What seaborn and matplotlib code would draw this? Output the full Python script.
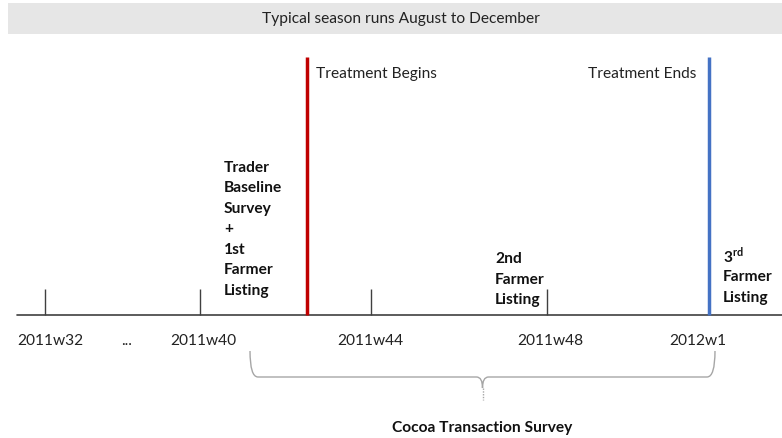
import matplotlib
matplotlib.use("Agg")
import matplotlib.pyplot as plt
import seaborn as sns
import pandas as pd
from matplotlib.path import Path
from matplotlib.patches import PathPatch, Rectangle

sns.set_theme(style="white")
plt.rcParams['font.family'] = ['Lato', 'DejaVu Sans']

# ---- diagram content ----
banner_text = "Typical season runs August to December"
week_labels = ["2011w32", "...", "2011w40", "2011w44", "2011w48", "2012w1"]
week_label_x = [50, 127, 203, 370, 550, 698]
tick_x = [45, 200, 371, 547]
event_names = ["Treatment Begins", "Treatment Ends"]
event_x = [307, 709]
event_colors = ["#C00000", "#4472C4"]
listing_texts = ["Trader\nBaseline\nSurvey\n+\n1st\nFarmer\nListing", "2nd\nFarmer\nListing"]
listing_x = [224, 495]
listing_top_y = [168, 259]
survey_name = "Cocoa Transaction Survey"
survey_span = [250, 715]

FS = 11.2
W, H = 782, 438
fig = plt.figure(figsize=(W / 100, H / 100), dpi=100)
ax = fig.add_axes([0, 0, 1, 1])

# banner
ax.add_patch(Rectangle((8, 3), W - 8, 31, color="#E6E6E6", lw=0))
ax.text(401, 19, banner_text, ha="center", va="center", fontsize=FS, color="#222222")

# baseline
base_y = 315
baseline = pd.DataFrame({"x": [17, W], "y": [base_y, base_y]})
sns.lineplot(data=baseline, x="x", y="y", ax=ax, color="#404040", lw=1.2, legend=False)
ax.set_xlim(0, W)
ax.set_ylim(H, 0)
ax.axis("off")

# ticks
ax.vlines(tick_x, 289, base_y, color="#404040", lw=1.0)

# week labels
for lab, x in zip(week_labels, week_label_x):
    ax.text(x, 341, lab, ha="center", va="center", fontsize=FS, color="#222222")

# treatment lines
for name, x, c, ha in zip(event_names, event_x, event_colors, ["left", "right"]):
    ax.vlines(x, 57, base_y, color=c, lw=2.5)
    tx = x + 9 if ha == "left" else x - 13
    ax.text(tx, 74, name, ha=ha, va="center", fontsize=FS, color="#222222")

# listing texts
for txt, x, y0 in zip(listing_texts, listing_x, listing_top_y):
    for i, ln in enumerate(txt.split("\n")):
        ax.text(x, y0 + 20.5 * i, ln, ha="left", va="center",
                fontsize=FS, fontweight="bold", color="#111111")

# 3rd farmer listing with superscript
ax.text(723, 256, "3$^{\\mathregular{rd}}$", ha="left", va="center", fontsize=FS,
        fontweight="bold", color="#111111")
ax.text(723, 277, "Farmer", ha="left", va="center", fontsize=FS, fontweight="bold", color="#111111")
ax.text(723, 298, "Listing", ha="left", va="center", fontsize=FS, fontweight="bold", color="#111111")

# brace
l, r = survey_span
m = (l + r) / 2
top, mid, tip = 351, 377, 388
verts = [(l, top), (l, mid), (l + 8, mid),
         (m - 6, mid), (m, mid), (m, tip),
         (m, mid), (m + 6, mid),
         (r - 8, mid), (r, mid), (r, top)]
codes = [Path.MOVETO, Path.CURVE3, Path.CURVE3,
         Path.LINETO, Path.CURVE3, Path.CURVE3,
         Path.CURVE3, Path.CURVE3,
         Path.LINETO, Path.CURVE3, Path.CURVE3]
ax.add_patch(PathPatch(Path(verts, codes), fill=False, ec="#A6A6A6", lw=1.0))
ax.plot([m, m], [tip, 400], color="#A6A6A6", lw=1.0, ls=(0, (1, 1)))

ax.text(m, 428, survey_name, ha="center", va="center", fontsize=FS,
        fontweight="bold", color="#111111")

fig.savefig("out.png", dpi=100)
